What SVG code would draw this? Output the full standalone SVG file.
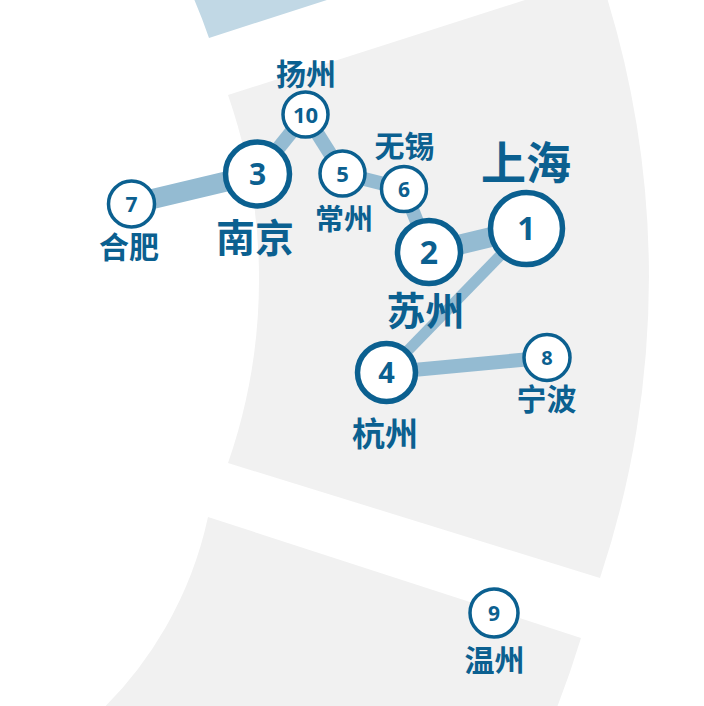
<svg xmlns="http://www.w3.org/2000/svg" width="704" height="706" viewBox="0 0 704 706">
<style>
.bg{fill:#f1f1f1}
.bgb{fill:#c1d8e5}
.lk{stroke:#94bbd2;fill:none;stroke-linecap:butt}
.nd{fill:#fff;stroke:#0b6090}
.num{font-family:"Open Sans","Noto Sans",sans-serif;font-weight:700;fill:#0b6090;text-anchor:middle}
.lb{font-family:"Noto Sans CJK SC","Noto Sans",sans-serif;font-weight:700;fill:#0b6090;text-anchor:middle}
</style>
<rect width="704" height="706" fill="#fff"/>
<g id="background">
<path class="bgb" d="M209 38 L330 -1 L194 -1 A561 561 0 0 1 209 38 Z"/>
<path class="bg" d="M228 95 L600 -24 A950 950 0 0 1 600 578 L228 463 A561 561 0 0 0 228 95 Z"/>
<path class="bg" d="M208 517 L581 638 A950 950 0 0 1 552 720 L91 720 A383 383 0 0 0 208 517 Z"/>
</g>
<g id="links">
<line class="lk" x1="131.5" y1="204" x2="257.5" y2="174" stroke-width="20"/>
<line class="lk" x1="257.5" y1="174" x2="305.5" y2="114.5" stroke-width="14"/>
<line class="lk" x1="305.5" y1="114.5" x2="342.5" y2="173.5" stroke-width="14"/>
<line class="lk" x1="342.5" y1="173.5" x2="404" y2="189" stroke-width="14"/>
<line class="lk" x1="404" y1="189" x2="429" y2="252" stroke-width="14"/>
<line class="lk" x1="429" y1="252" x2="526.5" y2="228.5" stroke-width="20"/>
<line class="lk" x1="526.5" y1="228.5" x2="386.5" y2="372.5" stroke-width="11"/>
<line class="lk" x1="386.5" y1="372.5" x2="547" y2="357.5" stroke-width="14"/>
</g>
<g id="node1"><circle class="nd" cx="526.5" cy="228.5" r="36" stroke-width="5.5"/><text class="num" x="526.5" y="240" font-size="32">1</text><text class="lb" x="526" y="180" font-size="45">上海</text></g>
<g id="node2"><circle class="nd" cx="429" cy="252" r="31.5" stroke-width="5.5"/><text class="num" x="429" y="263.5" font-size="32">2</text><text class="lb" x="425.5" y="325" font-size="39">苏州</text></g>
<g id="node3"><circle class="nd" cx="257.5" cy="174" r="32" stroke-width="5.5"/><text class="num" x="257.5" y="185" font-size="30">3</text><text class="lb" x="255" y="252" font-size="39">南京</text></g>
<g id="node4"><circle class="nd" cx="386.5" cy="372.5" r="29" stroke-width="5.5"/><text class="num" x="386.5" y="383" font-size="29">4</text><text class="lb" x="385" y="446" font-size="33">杭州</text></g>
<g id="node5"><circle class="nd" cx="342.5" cy="173.5" r="22.5" stroke-width="3.5"/><text class="num" x="342.5" y="182" font-size="22">5</text><text class="lb" x="344" y="230" font-size="29">常州</text></g>
<g id="node6"><circle class="nd" cx="404" cy="189" r="22.5" stroke-width="3.5"/><text class="num" x="404" y="197" font-size="21">6</text><text class="lb" x="404.5" y="157" font-size="30">无锡</text></g>
<g id="node7"><circle class="nd" cx="131.5" cy="204" r="23" stroke-width="3.5"/><text class="num" x="131.5" y="211.5" font-size="21">7</text><text class="lb" x="129" y="258" font-size="30">合肥</text></g>
<g id="node8"><circle class="nd" cx="547" cy="357.5" r="23" stroke-width="3.5"/><text class="num" x="547" y="365" font-size="20">8</text><text class="lb" x="546.5" y="410" font-size="30">宁波</text></g>
<g id="node9"><circle class="nd" cx="494" cy="613" r="24" stroke-width="3.5"/><text class="num" x="494" y="620.5" font-size="21">9</text><text class="lb" x="494.5" y="671" font-size="30">温州</text></g>
<g id="node10"><circle class="nd" cx="305.5" cy="114.5" r="22.5" stroke-width="3.5"/><text class="num" x="305.5" y="122.5" font-size="22">10</text><text class="lb" x="306" y="85" font-size="30">扬州</text></g>
</svg>
